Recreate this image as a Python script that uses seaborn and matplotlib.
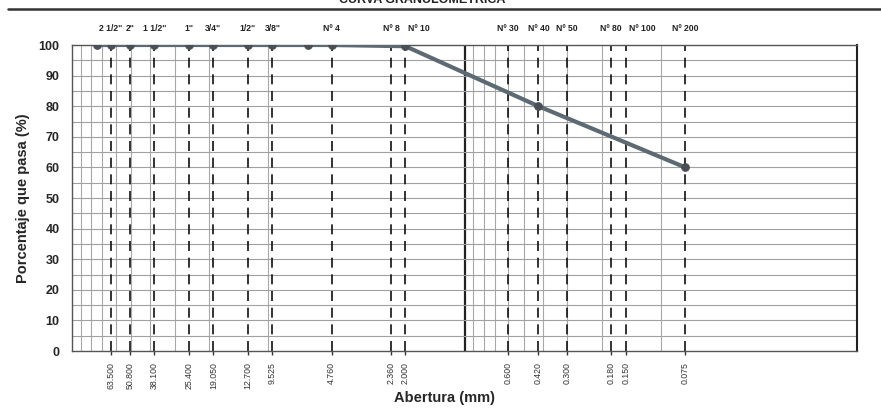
import matplotlib
matplotlib.use("Agg")
import matplotlib.pyplot as plt
from matplotlib.lines import Line2D
import matplotlib.ticker as mticker
import seaborn as sns
import pandas as pd
import numpy as np

# Data
aberturas = [75.0, 63.5, 50.8, 38.1, 25.4, 19.05, 12.7, 9.525, 6.3, 4.76, 2.0, 0.42, 0.075]
pasa = [100, 100, 100, 100, 100, 100, 100, 100, 100, 100, 99.6, 80, 60]

tamices = [63.5, 50.8, 38.1, 25.4, 19.05, 12.7, 9.525, 4.76, 2.36, 2.0,
           0.6, 0.42, 0.3, 0.18, 0.15, 0.075]
tamiz_nombres = ['2 1/2"', '2"', '1 1/2"', '1"', '3/4"', '1/2"', '3/8"', 'Nº 4', 'Nº 8', 'Nº 10',
                 'Nº 30', 'Nº 40', 'Nº 50', 'Nº 80', 'Nº 100', 'Nº 200']
tick_labels = ['63.500', '50.800', '38.100', '25.400', '19.050', '12.700', '9.525', '4.760',
               '2.360', '2.000', '0.600', '0.420', '0.300', '0.180', '0.150', '0.075']

# light grid lines present in the reference
grid_lineas = [90, 80, 70, 60, 50, 40, 30, 20, 10,
               0.9, 0.8, 0.7, 0.6, 0.5, 0.4, 0.3, 0.2, 0.1]

sns.set_theme(style="white")
plt.rcParams['font.family'] = ['Liberation Sans', 'DejaVu Sans']

fig = plt.figure(figsize=(8.81, 4.11), dpi=100)
ax = fig.add_axes([72/881, 1-351/411, (857-72)/881, (351-45)/411])

ax.set_xscale('log')
ax.set_xlim(100, 0.01)
ax.set_ylim(0, 100)

ax.grid(False)
for g in grid_lineas:
    ax.axvline(g, color='#a8a8a8', lw=0.8, zorder=1)
ax.axvline(1, color='#222222', lw=1.6, zorder=1)
for yv in range(5, 100, 5):
    ax.axhline(yv, color='#a0a0a0', lw=0.8, zorder=1)

for t in tamices:
    ax.axvline(t, color='#111111', lw=1.2, ls=(0, (6, 4)), zorder=2)

df = pd.DataFrame({'Abertura': aberturas, 'Pasa': pasa})
sns.lineplot(data=df, x='Abertura', y='Pasa', ax=ax, color='#5e6a73', lw=3,
             marker='o', markersize=5.5, markerfacecolor='#4a4f55', markeredgecolor='#4a4f55',
             zorder=4, sort=False)

for s in ax.spines.values():
    s.set_visible(True)
    s.set_color('#555555')
    s.set_linewidth(1.0)
ax.spines['right'].set_color('#222222')
ax.spines['right'].set_linewidth(1.5)

ax.xaxis.set_minor_locator(mticker.NullLocator())
ax.set_xticks(tamices)
ax.set_xticklabels(tick_labels, rotation=90, fontsize=6.3, color='#333333')
ax.tick_params(axis='x', which='major', bottom=True, length=3, width=1, color='#333333', pad=5)
ax.yaxis.set_major_locator(mticker.MultipleLocator(10))
ax.tick_params(axis='y', which='both', left=False, labelsize=9, pad=3)
for lbl in ax.get_yticklabels():
    lbl.set_fontweight('bold')

ax.set_xlabel('')
ax.set_ylabel('Porcentaje que pasa (%)', fontsize=10.5, fontweight='bold', labelpad=6)
fig.text(445/881, 1-398/411, 'Abertura (mm)', fontsize=10.5, fontweight='bold', ha='center', va='center')

trans = ax.get_xaxis_transform()
for t, n in zip(tamices, tamiz_nombres):
    ha = 'left' if n in ('Nº 10', 'Nº 100') else 'center'
    dx = 0.97 if ha == 'left' else 1.0
    ax.text(t * dx, 1.055, n, transform=trans, ha=ha, va='center', fontsize=6.2,
            fontweight='bold', color='#222222')

# header
fig.add_artist(Line2D([8/881, 1.0], [1-9/411, 1-9/411], color='#333333', lw=1.8))
fig.text(422/881, 1-3/411, 'CURVA GRANULOMETRICA', fontsize=9, fontweight='bold',
         ha='center', va='baseline', color='#222222')

fig.savefig('out.png', dpi=100)
